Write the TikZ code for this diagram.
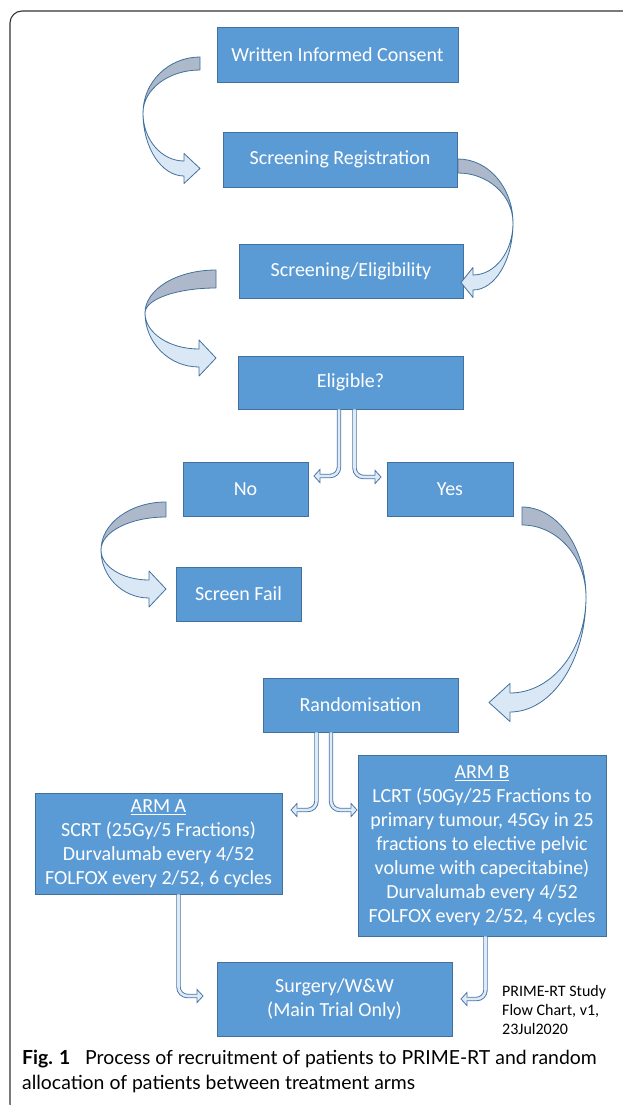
\documentclass[tikz,border=0pt]{standalone}
\usepackage{fontspec}
\setmainfont{Carlito}
\newfontfamily\capfont{Lato}
\usetikzlibrary{arrows.meta,positioning}
\definecolor{boxblue}{HTML}{5B9BD5}
\definecolor{boxline}{HTML}{41719C}
\definecolor{backgrey}{HTML}{ADB9CA}
\definecolor{frontblue}{HTML}{DAE7F5}
\definecolor{linkline}{HTML}{4A74A6}
\definecolor{linkfill}{HTML}{DEEBF7}
\tikzset{
  flowbox/.style={draw=boxline, fill=boxblue, text=white, line width=0.8pt,
    font=\fontsize{20}{24}\selectfont, align=center, inner sep=2pt},
  hollow/.style={draw=linkline, line width=4.4pt, rounded corners=9,
    -{Triangle[length=7pt,width=15pt,line width=0.8pt,color=linkline,fill=linkfill]},
    postaction={draw=linkfill, line width=2.6pt, arrows=-, shorten >=4pt}},
  backpart/.style={draw=boxline, fill=backgrey, line width=0.8pt, line join=round},
  frontpart/.style={draw=boxline, fill=frontblue, line width=0.8pt, line join=round},
  frameline/.style={draw=black!80, line width=1.1pt, rounded corners=12},
  notetext/.style={font=\fontsize{16}{19}\selectfont, align=left, inner sep=0pt},
  captext/.style={font=\capfont\fontsize{19.4}{25}\selectfont, align=left, inner sep=0pt}
}
% curved arrow: start x, start top y, start bottom y, turn x, turn y,
% head base x, shaft top y, shaft bottom y, tip x
\newcommand{\turnarrow}[9]{%
  \filldraw[backpart] (#1,#2) .. controls ({#1+0.552*(#4-#1)},#2) and (#4,{#5-0.552*(#5-#2)}) .. (#4,#5)
    .. controls (#4,{#5-0.552*(#5-#3)}) and ({#1+0.552*(#4-#1)},#3) .. (#1,#3) -- cycle;
  \filldraw[frontpart] (#4,#5) .. controls (#4,{#5+0.552*(#8-#5)}) and ({#6+0.552*(#4-#6)},#8) .. (#6,#8)
    -- (#6,{#8+0.5*(#8-#7)}) -- (#9,{0.5*(#7+#8)}) -- (#6,{#7-0.5*(#8-#7)}) -- (#6,#7)
    .. controls ({#6+0.552*(#4-#6)},#7) and (#4,{#5+0.552*(#7-#5)}) .. (#4,#5) -- cycle;
}
\begin{document}
\begin{tikzpicture}[x=1pt,y=-1pt]
\useasboundingbox (0,0) rectangle (623,1105);
\begin{scope}
\clip (0,0) rectangle (623,1105);
\draw[frameline] (10,11) rectangle (640,1116);
\end{scope}
%
\node[flowbox, minimum width=241, minimum height=55] (consent) at (337.5,54.5) {Written Informed Consent};
\node[flowbox, minimum width=234, minimum height=55] (screenreg) at (340,159.5) {Screening Registration};
\node[flowbox, minimum width=224, minimum height=54] (screenelig) at (351,271) {Screening/Eligibility};
\node[flowbox, minimum width=225, minimum height=53] (eligible) at (350.5,382.5) {Eligible?};
\node[flowbox, minimum width=125, minimum height=54] (no) at (245.5,489) {No};
\node[flowbox, minimum width=126, minimum height=54] (yes) at (450,489) {Yes};
\node[flowbox, minimum width=125, minimum height=54] (fail) at (238.5,594) {Screen Fail};
\node[flowbox, minimum width=195, minimum height=54] (random) at (360.5,705) {Randomisation};
\node[flowbox, minimum width=247, minimum height=101] (arma) at (158.5,843.5)
  {\underline{ARM A}\\SCRT (25Gy/5 Fractions)\\Durvalumab every 4/52\\FOLFOX every 2/52, 6 cycles};
\node[flowbox, minimum width=248, minimum height=181] (armb) at (482,845.5)
  {\underline{ARM B}\\LCRT (50Gy/25 Fractions to\\primary tumour, 45Gy in 25\\fractions to elective pelvic\\volume with capecitabine)\\Durvalumab every 4/52\\FOLFOX every 2/52, 4 cycles};
\node[flowbox, minimum width=235, minimum height=74] (surgery) at (334.5,999) {Surgery/W\&W\\(Main Trial Only)};
%
\draw[hollow] ([xshift=-11.5]eligible.south) |- ([xshift=5,yshift=13]no.east);
\draw[hollow] ([xshift=4]eligible.south) |- ([xshift=-5,yshift=12]yes.west);
\draw[hollow] ([xshift=-44]random.south) |- ([xshift=8,yshift=33.5]arma.east);
\draw[hollow] ([xshift=-29.5]random.south) |- ([yshift=35.5]armb.west);
\draw[hollow] ([xshift=20]arma.south) |- ([xshift=-13,yshift=3]surgery.west);
\draw[hollow] ([xshift=3.5]armb.south) |- ([xshift=8]surgery.east);
%
\turnarrow{200}{57}{70}{143}{113}{184}{161}{176}{200}
\turnarrow{458}{159}{173}{513}{223}{473}{275}{290}{461}
\turnarrow{216}{270}{288}{145}{313}{199}{349}{367}{216}
\turnarrow{522}{507}{525}{586}{597}{510}{693}{712}{489}
\turnarrow{166}{502}{517}{101}{550}{149}{580}{598}{166}
%
\node[notetext, anchor=north west] (note) at (502,985) {PRIME-RT Study\\Flow Chart, v1,\\23Jul2020};
\node[captext, anchor=north west] (caption) at (22,1050)
  {\textbf{Fig. 1}\hspace{0.5em} Process of recruitment of patients to PRIME-RT and random\\allocation of patients between treatment arms};
\end{tikzpicture}
\end{document}
